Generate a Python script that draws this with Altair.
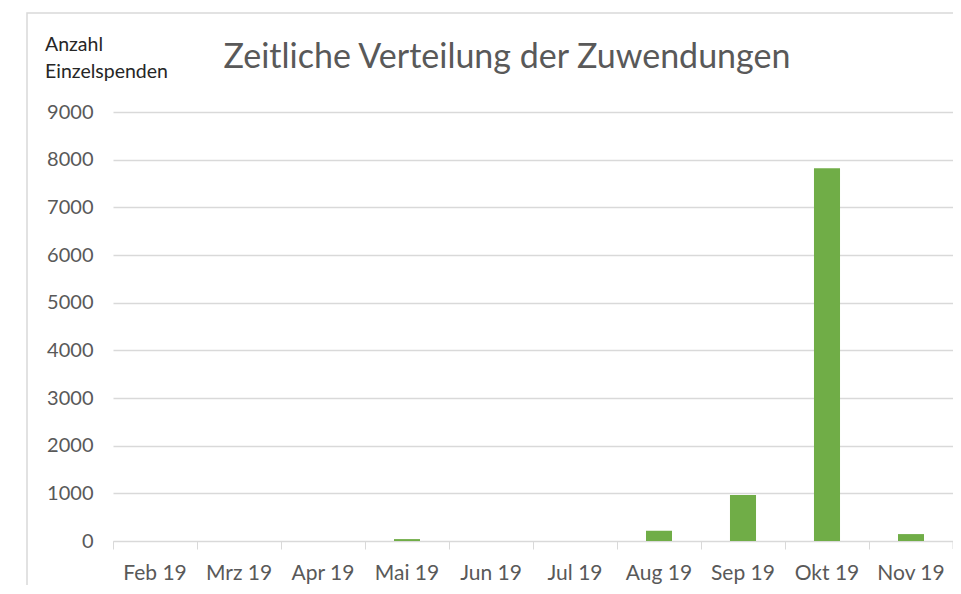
import altair as alt
import pandas as pd

months = ["Feb 19", "Mrz 19", "Apr 19", "Mai 19", "Jun 19", "Jul 19", "Aug 19", "Sep 19", "Okt 19", "Nov 19"]
counts = [0, 0, 0, 40, 0, 0, 215, 965, 7820, 145]
y_ticks = [0, 1000, 2000, 3000, 4000, 5000, 6000, 7000, 8000, 9000]
title_text = "Zeitliche Verteilung der Zuwendungen"
y_title_line1 = "Anzahl"
y_title_line2 = "Einzelspenden"

W, H = 840, 429
FONT = "Lato"
GREY = "#595959"

df = pd.DataFrame({"Monat": months, "Anzahl": counts})

bars = alt.Chart(df).mark_bar(width=alt.RelativeBandSize(0.31), color="#70AD47").encode(
    x=alt.X("Monat:N", sort=months,
            scale=alt.Scale(paddingInner=0, paddingOuter=0),
            axis=alt.Axis(title=None, labelAngle=0, labelFont=FONT, labelFontSize=21,
                          labelColor=GREY, labelPadding=13, domainColor="#d9d9d9",
                          tickColor="#d9d9d9", tickSize=8, bandPosition=0,
                          labelBound=False, grid=False)),
    y=alt.Y("Anzahl:Q", scale=alt.Scale(domain=[0, 9000], nice=False),
            axis=alt.Axis(title=None, values=y_ticks, format="d", labelFont=FONT, labelFontSize=20,
                          labelColor=GREY, labelPadding=20, domain=False, ticks=False,
                          gridColor="#d9d9d9", gridWidth=1.3)),
)

end_tick = alt.Chart(pd.DataFrame({"a": [0]})).mark_rule(color="#d9d9d9").encode(
    x=alt.value(W), y=alt.value(H), y2=alt.value(H + 8))

title = alt.Chart(pd.DataFrame({"t": [title_text]})).mark_text(
    font=FONT, fontSize=34, color=GREY, align="center", baseline="middle").encode(
    text="t:N", x=alt.value(394), y=alt.value(-54))

ytitle1 = alt.Chart(pd.DataFrame({"t": [y_title_line1]})).mark_text(
    font=FONT, fontSize=19.5, color="#262626", align="left", baseline="middle").encode(
    text="t:N", x=alt.value(-68), y=alt.value(-67))

ytitle2 = alt.Chart(pd.DataFrame({"t": [y_title_line2]})).mark_text(
    font=FONT, fontSize=19.5, color="#262626", align="left", baseline="middle").encode(
    text="t:N", x=alt.value(-68), y=alt.value(-40))

frame = alt.Chart(pd.DataFrame({"a": [0]})).mark_rect(
    fill=None, stroke="#d9d9d9", strokeWidth=1.5).encode(
    x=alt.value(-86), x2=alt.value(W + 40), y=alt.value(-99), y2=alt.value(H + 60))

chart = alt.layer(frame, bars, end_tick, title, ytitle1, ytitle2).properties(
    width=W, height=H,
    autosize=alt.AutoSizeParams(type="none"),
    padding={"left": 105, "top": 104, "right": 0, "bottom": 44},
).configure_view(stroke=None)

chart.save("out.html", embed_options={"renderer": "svg", "actions": False})
